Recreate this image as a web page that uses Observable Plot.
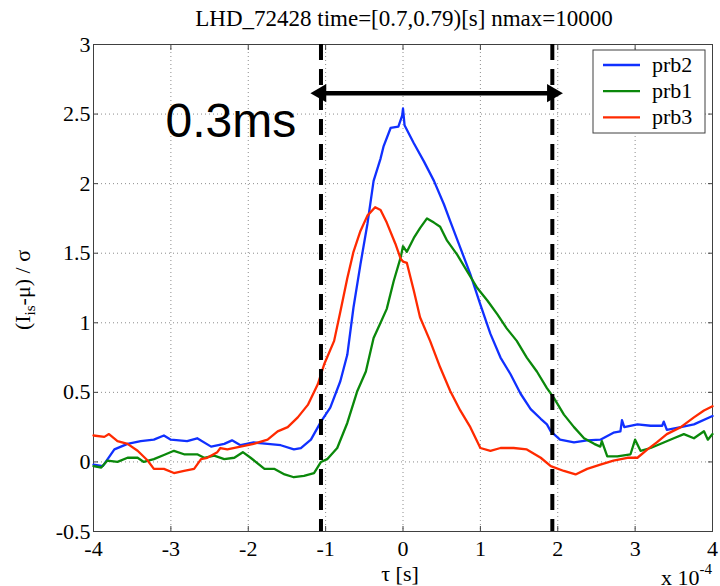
<!DOCTYPE html>
<html><head><meta charset="utf-8">
<script src="https://cdn.jsdelivr.net/npm/d3@7"></script>
<script src="https://cdn.jsdelivr.net/npm/@observablehq/plot@0.6"></script>
<style>
body{margin:0;background:#fff;}
#wrap{position:relative;width:720px;height:586px;overflow:hidden;}
</style></head><body><div id="wrap"></div>
<script>
// ---- data (x in units of 1e-4 s) ----
const titleText = "LHD_72428 time=[0.7,0.79)[s] nmax=10000";
const seriesNames = ["prb2", "prb1", "prb3"];
const seriesColors = ["#1030ff", "#0a880a", "#ff2a00"];
const xTicks = [-4, -3, -2, -1, 0, 1, 2, 3, 4];
const yTicks = [-0.5, 0, 0.5, 1, 1.5, 2, 2.5, 3];

const prb2X = [-4.0,-3.88,-3.73,-3.56,-3.39,-3.22,-3.09,-3.0,-2.79,-2.66,-2.48,-2.31,-2.21,-2.1,-1.93,-1.75,-1.58,-1.41,-1.32,-1.19,-1.06,-0.94,-0.81,-0.72,-0.64,-0.55,-0.46,-0.38,-0.29,-0.25,-0.16,-0.06,-0.01,0.0,0.02,0.14,0.27,0.40,0.53,0.61,0.74,0.87,1.0,1.13,1.26,1.39,1.52,1.65,1.78,1.86,1.91,2.03,2.21,2.38,2.55,2.72,2.81,2.83,2.86,3.03,3.2,3.35,3.37,3.41,3.59,3.76,4.0];
const prb2Y = [-0.02,-0.03,0.09,0.13,0.15,0.16,0.19,0.16,0.15,0.17,0.11,0.13,0.155,0.12,0.14,0.13,0.12,0.09,0.10,0.16,0.29,0.39,0.58,0.77,1.11,1.42,1.71,2.02,2.18,2.27,2.40,2.41,2.49,2.54,2.42,2.29,2.16,2.02,1.85,1.73,1.54,1.35,1.13,0.92,0.75,0.63,0.49,0.38,0.31,0.27,0.22,0.16,0.14,0.155,0.16,0.21,0.22,0.30,0.25,0.27,0.26,0.26,0.29,0.23,0.25,0.27,0.33];

const prb1X = [-4.0,-3.9,-3.82,-3.69,-3.56,-3.43,-3.35,-3.22,-3.09,-2.96,-2.83,-2.66,-2.57,-2.44,-2.31,-2.18,-2.07,-1.97,-1.79,-1.66,-1.53,-1.41,-1.28,-1.15,-1.06,-0.98,-0.85,-0.72,-0.59,-0.48,-0.38,-0.29,-0.21,-0.12,-0.03,0.0,0.05,0.14,0.22,0.31,0.40,0.48,0.57,0.70,0.83,0.96,1.09,1.22,1.34,1.47,1.60,1.73,1.86,1.95,2.08,2.21,2.34,2.47,2.55,2.57,2.64,2.77,2.94,3.0,3.07,3.2,3.37,3.5,3.63,3.76,3.89,3.94,4.0];
const prb1Y = [-0.03,-0.04,0.01,0.0,0.03,0.03,0.0,0.02,0.05,0.08,0.055,0.055,0.03,0.045,0.02,0.03,0.07,0.03,-0.05,-0.05,-0.09,-0.11,-0.10,-0.08,0.0,0.02,0.10,0.28,0.51,0.65,0.89,1.0,1.1,1.30,1.47,1.55,1.51,1.61,1.68,1.75,1.72,1.69,1.59,1.49,1.37,1.25,1.16,1.06,0.96,0.87,0.75,0.65,0.53,0.46,0.34,0.25,0.17,0.13,0.11,0.15,0.04,0.04,0.055,0.16,0.08,0.10,0.14,0.17,0.20,0.17,0.22,0.16,0.20];

const prb3X = [-4.0,-3.86,-3.8,-3.69,-3.56,-3.43,-3.3,-3.22,-3.09,-2.96,-2.83,-2.7,-2.61,-2.53,-2.40,-2.36,-2.27,-2.1,-1.93,-1.75,-1.62,-1.49,-1.36,-1.23,-1.1,-1.02,-0.89,-0.81,-0.72,-0.64,-0.55,-0.46,-0.36,-0.29,-0.21,-0.1,-0.03,0.0,0.05,0.14,0.22,0.35,0.48,0.61,0.74,0.87,1.0,1.13,1.26,1.43,1.60,1.78,1.91,2.08,2.23,2.38,2.55,2.72,2.9,3.03,3.16,3.28,3.41,3.59,3.76,3.89,4.0];
const prb3Y = [0.19,0.18,0.20,0.15,0.13,0.08,0.01,-0.05,-0.05,-0.08,-0.065,-0.05,0.02,0.03,0.07,0.10,0.09,0.11,0.13,0.16,0.22,0.25,0.32,0.41,0.56,0.70,0.87,1.08,1.32,1.51,1.66,1.77,1.83,1.81,1.72,1.57,1.46,1.44,1.43,1.23,1.04,0.87,0.68,0.51,0.37,0.25,0.10,0.08,0.10,0.10,0.09,0.03,-0.03,-0.065,-0.09,-0.05,-0.02,0.01,0.03,0.03,0.09,0.14,0.20,0.25,0.32,0.37,0.40];

const markerX = [-1.06, 1.93];     // dashed lines
const arrowY = 2.65;               // double arrow height
const annotation = "0.3ms";
const annotationX = -3.07;
const annotationY = 2.335;

// ---- build ----
const seriesX = [prb2X, prb1X, prb3X];
const seriesY = [prb2Y, prb1Y, prb3Y];
const rows = [];
seriesNames.forEach((s, i) => seriesX[i].forEach((x, j) => rows.push({series: s, x, y: seriesY[i][j]})));

const fmt = d => String(d);
const serif = '"Liberation Serif", "Times New Roman", serif';
const sans = '"Liberation Sans", Arial, sans-serif';
const gridStyle = {stroke: "#8c8c8c", strokeOpacity: 1, strokeDasharray: "1,3"};

const chart = Plot.plot({
  width: 720, height: 586,
  marginLeft: 93, marginRight: 8, marginTop: 44, marginBottom: 55,
  x: {domain: [-4, 4]},
  y: {domain: [-0.5, 3]},
  color: {domain: seriesNames, range: seriesColors},
  style: {fontFamily: serif, fontSize: "22px", background: "#fff", color: "#000", overflow: "visible"},
  marks: [
    Plot.gridX(xTicks, gridStyle),
    Plot.gridY(yTicks, gridStyle),
    Plot.axisX(xTicks, {anchor: "bottom", tickSize: -5, tickPadding: 14, tickFormat: fmt, label: null, fontSize: 22, fontFamily: serif, stroke: "#404040"}),
    Plot.axisX(xTicks, {anchor: "top", tickSize: -5, tickFormat: () => "", label: null, stroke: "#404040"}),
    Plot.axisY(yTicks, {anchor: "left", tickSize: -5, tickPadding: 8, tickFormat: fmt, label: null, fontSize: 22, fontFamily: serif, stroke: "#404040"}),
    Plot.axisY(yTicks, {anchor: "right", tickSize: -5, tickFormat: () => "", label: null, stroke: "#404040"}),
    Plot.frame({stroke: "#404040"}),
    Plot.line(rows, {x: "x", y: "y", z: "series", stroke: "series", strokeWidth: 2.3}),
    Plot.ruleX(markerX, {x: d => d, stroke: "#000", strokeWidth: 4, strokeDasharray: "16,9"}),
    Plot.ruleY([{y: arrowY, x1: markerX[0], x2: markerX[1]}], {y: "y", x1: "x1", x2: "x2", stroke: "#000", strokeWidth: 4.5}),
    Plot.dot([{x: markerX[0], rot: -90}, {x: markerX[1], rot: 90}], {x: "x", y: () => arrowY, rotate: "rot", symbol: "triangle", r: 6.8, fill: "#000", stroke: "none"}),
    Plot.text([annotation], {x: () => annotationX, y: () => annotationY, text: d => d, textAnchor: "start", lineAnchor: "bottom", fontSize: 48, fontFamily: sans, fill: "#000"})
  ]
});

document.getElementById("wrap").appendChild(chart);
const svg = d3.select(chart);

function addText(x, y, anchor, size, txt) {
  return svg.append("text").attr("x", x).attr("y", y).attr("text-anchor", anchor)
    .style("font-family", serif).style("font-size", size + "px").attr("fill", "#000").text(txt);
}

// title
addText(404, 26, "middle", 23, titleText);
// x label
addText(400, 581, "middle", 22, "τ [s]");
// x exponent
const ex = addText(712, 585, "end", 22, null);
ex.append("tspan").text("x 10");
ex.append("tspan").attr("dy", -11).style("font-size", "15px").text("-4");

// y label
const yl = svg.append("text").attr("transform", "translate(30,290) rotate(-90)").attr("text-anchor", "middle")
  .style("font-family", serif).style("font-size", "22px").attr("fill", "#000");
yl.append("tspan").text("(I");
yl.append("tspan").attr("dy", 5).style("font-size", "15px").text("is");
yl.append("tspan").attr("dy", -5).text("-μ) / σ");

// legend
const lg = svg.append("g");
lg.append("rect").attr("x", 593).attr("y", 50).attr("width", 112).attr("height", 83)
  .attr("fill", "#fff").attr("stroke", "#404040").attr("stroke-width", 1);
seriesNames.forEach((s, i) => {
  const cy = 65 + i * 26.2;
  lg.append("line").attr("x1", 603).attr("x2", 640).attr("y1", cy).attr("y2", cy)
    .attr("stroke", seriesColors[i]).attr("stroke-width", 2.3);
  addText(652, cy + 7, "start", 22, s);
});
</script></body></html>
